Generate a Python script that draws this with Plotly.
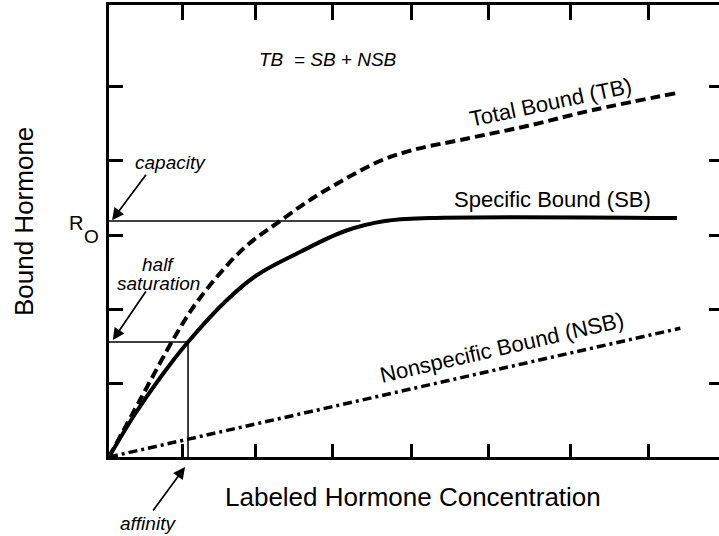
import plotly.graph_objects as go

# ---- data ----
sb_x = [0, 0.337, 0.661, 1.025, 1.53, 1.92, 2.477, 3.061, 3.58, 4.163, 7.367]
sb_y = [0, 0.581, 1.068, 1.554, 2.122, 2.459, 2.77, 3.054, 3.189, 3.23, 3.23]

tb_x = [0, 0.402, 0.882, 1.18, 1.738, 2.218, 2.646, 3.087, 3.515, 3.943, 4.553, 5.422, 6.278, 7.367]
tb_y = [0, 0.77, 1.676, 2.149, 2.811, 3.189, 3.5, 3.77, 4.0, 4.149, 4.284, 4.473, 4.689, 4.919]

nsb_x = [0, 7.41]
nsb_y = [0, 1.74]

R0 = 3.19            # capacity
capacity_x = [0, 3.26]
half_sat = 1.555     # half saturation
Kd = 1.025           # affinity

x_ticks = [0.95, 1.9, 2.9, 3.92, 4.92, 5.98, 7.0]
y_ticks = [1, 2, 3, 4, 5]
x_range = [0, 7.912]
y_range = [0, 6.108]

FONT = "Liberation Sans, Arial, Helvetica, sans-serif"

fig = go.Figure()

# guide lines
fig.add_trace(go.Scatter(x=capacity_x, y=[R0, R0], mode="lines",
                         line=dict(color="black", width=1.5), hoverinfo="skip"))
fig.add_trace(go.Scatter(x=[0, Kd, Kd], y=[half_sat, half_sat, 0], mode="lines",
                         line=dict(color="black", width=1.5), hoverinfo="skip"))

# curves
fig.add_trace(go.Scatter(x=nsb_x, y=nsb_y, mode="lines",
                         line=dict(color="black", width=3.5, dash="9px,4px,3px,4px")))
fig.add_trace(go.Scatter(x=tb_x, y=tb_y, mode="lines",
                         line=dict(color="black", width=4, dash="10px,5px",
                                   shape="spline", smoothing=1)))
fig.add_trace(go.Scatter(x=sb_x, y=sb_y, mode="lines",
                         line=dict(color="black", width=4, shape="spline", smoothing=1)))

# dummy trace to carry the mirrored axes
fig.add_trace(go.Scatter(x=[None], y=[None], xaxis="x2", yaxis="y2", mode="lines",
                         hoverinfo="skip", showlegend=False))

ann = []
def txt(x, y, text, size, angle=0, italic=False, ref="data"):
    t = f"<i>{text}</i>" if italic else text
    xr, yr = ("x", "y") if ref == "data" else ("paper", "paper")
    ann.append(dict(x=x, y=y, xref=xr, yref=yr, text=t, showarrow=False,
                    textangle=angle, xanchor="center", yanchor="middle",
                    font=dict(family=FONT, size=size, color="black")))

txt(2.84, 5.365, "TB&nbsp; = SB + NSB", 19, italic=True)
txt(5.72, 4.797, "Total Bound (TB)", 22, angle=-12)
txt(5.746, 3.473, "Specific Bound (SB)", 22)
txt(5.097, 1.486, "Nonspecific Bound (NSB)", 22, angle=-13)
txt(0.804, 3.986, "capacity", 19, italic=True)
txt(0.636, 2.595, "half", 19, italic=True)
txt(0.636, 2.351, "saturation", 19, italic=True)
txt(0.0639, -0.148, "affinity", 19, italic=True, ref="paper")
txt(-0.0541, 0.5177, "R", 20, ref="paper")
txt(-0.0295, 0.4889, "O", 19, ref="paper")
txt(0.498, -0.0885, "Labeled Hormone Concentration", 26, ref="paper")
txt(-0.1393, 0.5199, "Bound Hormone", 26, angle=-90, ref="paper")

def arrow(x, y, ax, ay, ref="data"):
    xr, yr = ("x", "y") if ref == "data" else ("paper", "paper")
    ann.append(dict(x=x, y=y, xref=xr, yref=yr, ax=ax, ay=ay, text="",
                    showarrow=True, arrowhead=2, arrowsize=1.4, arrowwidth=1.7,
                    arrowcolor="black", standoff=0))

arrow(0.04, 3.2, 35, -47)
arrow(0.05, 1.58, 34, -50)
arrow(0.1246, -0.0221, -33, 45, ref="paper")

axis_common = dict(showgrid=False, zeroline=False, showticklabels=False,
                   ticks="inside", tickcolor="black", tickwidth=2.5)

fig.update_layout(
    width=719, height=536,
    margin=dict(l=109, r=0, t=5, b=79),
    plot_bgcolor="white", paper_bgcolor="white",
    showlegend=False,
    annotations=ann,
    xaxis=dict(range=x_range, tickvals=x_ticks, ticklen=13, showline=True,
               linecolor="black", linewidth=3, **axis_common),
    yaxis=dict(range=y_range, tickvals=y_ticks, ticklen=14, showline=True,
               linecolor="black", linewidth=3, **axis_common),
    xaxis2=dict(range=x_range, tickvals=x_ticks, ticklen=15, overlaying="x",
                side="top", anchor="y2", showline=True, linecolor="black",
                linewidth=3, **axis_common),
    yaxis2=dict(range=y_range, tickvals=y_ticks, ticklen=10, overlaying="y",
                side="right", anchor="x2", showline=False, **axis_common),
)

fig.write_html("out.html")
